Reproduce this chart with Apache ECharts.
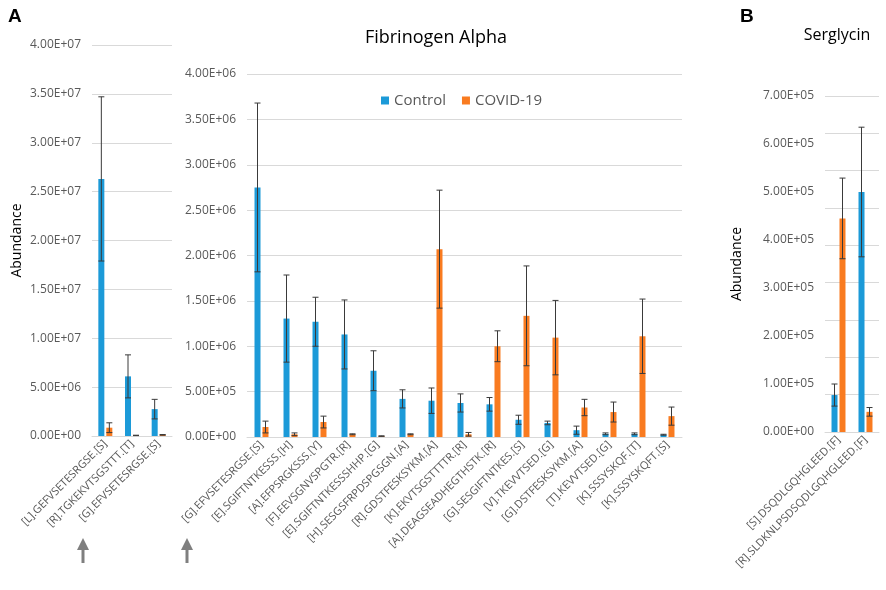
<!DOCTYPE html>
<html>
<head>
<meta charset="utf-8">
<script src="https://cdn.jsdelivr.net/npm/echarts@6/dist/echarts.min.js"></script>
<style>
  html, body { margin: 0; padding: 0; background: #fff; }
  #main { width: 886px; height: 590px; }
</style>
</head>
<body>
<div id="main"></div>
<script>
// panel A, left: high-abundance peptides
var leftCats = ['[L].GEFVSETESRGSE.[S]', '[R].TGKEKVTSGSTTT.[T]', '[G].EFVSETESRGSE.[S]'];
var leftCtrl = [2.63e7, 6.1e6, 2.75e6];
var leftCtrlSd = [8.4e6, 2.2e6, 1.0e6];
var leftCovid = [8.5e5, 6e4, 1.2e5];
var leftCovidSd = [5e5, 2e4, 3e4];

// panel A, Fibrinogen Alpha
var fibCats = ['[G].EFVSETESRGSE.[S]', '[E].SGIFTNTKESSS.[H]', '[A].EFPSRGKSSS.[Y]',
  '[F].EEVSGNVSPGTR.[R]', '[E].SGIFTNTKESSSHHP.[G]', '[H].SESGSFRPDSPGSGN.[A]',
  '[R].GDSTFESKSYKM.[A]', '[K].EKVTSGSTTTTR.[R]', '[A].DEAGSEADHEGTHSTK.[R]',
  '[G].SESGIFTNTKES.[S]', '[V].TKEVVTSED.[G]', '[G].DSTFESKSYKM.[A]',
  '[T].KEVVTSED.[G]', '[K].SSSYSKQF.[T]', '[K].SSSYSKQFT.[S]'];
var fibCtrl = [2.75e6, 1.305e6, 1.27e6, 1.13e6, 7.3e5, 4.2e5, 4.0e5, 3.75e5, 3.6e5, 1.9e5, 1.55e5, 7.5e4, 3.5e4, 3.5e4, 2.5e4];
var fibCtrlSd = [9.3e5, 4.8e5, 2.7e5, 3.8e5, 2.2e5, 1.0e5, 1.4e5, 1.0e5, 7.5e4, 5e4, 2e4, 4.5e4, 1e4, 1e4, 5e3];
var fibCovid = [1.1e5, 3e4, 1.65e5, 3e4, 1e4, 3e4, 2.07e6, 3e4, 1.0e6, 1.335e6, 1.095e6, 3.25e5, 2.75e5, 1.11e6, 2.3e5];
var fibCovidSd = [6.5e4, 1.5e4, 6.5e4, 5e3, 3e3, 5e3, 6.5e5, 2e4, 1.7e5, 5.5e5, 4.1e5, 9e4, 1.1e5, 4.1e5, 1.0e5];

// panel B, Serglycin
var sergCats = ['[S].DSQDLGQHGLEED.[F]', '[R].SLDKNLPSDSQDLGQHGLEED.[F]'];
var sergCtrl = [7.7e4, 5.0e5];
var sergCtrlSd = [2.3e4, 1.35e5];
var sergCovid = [4.45e5, 4.2e4];
var sergCovidSd = [8.4e4, 9e3];

var blue = '#1c9ad8';
var orange = '#f97b20';
var grey = '#595959';
var font = 'Open Sans';

function sci(v) {
  if (v === 0) return '0.00E+00';
  var e = Math.floor(Math.log10(v) + 1e-9);
  var m = v / Math.pow(10, e);
  return m.toFixed(2) + 'E+' + (e < 10 ? '0' + e : e);
}

function errData(vals, sds) {
  return vals.map(function (v, i) { return [i, v, sds[i]]; });
}

function errRender(off) {
  return function (params, api) {
    var x = api.value(0), m = api.value(1), s = api.value(2);
    var hi = api.coord([x, m + s]);
    var lo = api.coord([x, Math.max(m - s, 0)]);
    var cx = hi[0] + off;
    var st = { stroke: '#3a3a3a', lineWidth: 1 };
    return {
      type: 'group',
      children: [
        { type: 'line', shape: { x1: cx, y1: hi[1], x2: cx, y2: lo[1] }, style: st },
        { type: 'line', shape: { x1: cx - 3, y1: hi[1], x2: cx + 3, y2: hi[1] }, style: st },
        { type: 'line', shape: { x1: cx - 3, y1: lo[1], x2: cx + 3, y2: lo[1] }, style: st }
      ]
    };
  };
}

function xAx(gi, cats) {
  return {
    type: 'category', gridIndex: gi, data: cats,
    axisLine: { lineStyle: { color: '#d9d9d9' } },
    axisTick: { show: false },
    axisLabel: { rotate: 45, interval: 0, color: grey, fontSize: 11, fontFamily: font, margin: 6 }
  };
}

function yAx(gi, max, interval, name, gap) {
  return {
    type: 'value', gridIndex: gi, min: 0, max: max, interval: interval,
    name: name, nameLocation: 'middle', nameGap: gap, nameRotate: 90,
    nameTextStyle: { color: '#000', fontSize: 14, fontFamily: font },
    axisLine: { show: false }, axisTick: { show: false },
    axisLabel: { color: grey, fontSize: 12, fontFamily: font, formatter: sci, margin: 11 },
    splitLine: { show: gi !== 2, lineStyle: { color: '#d9d9d9' } }
  };
}

function bars(name, gi, vals, color) {
  return {
    name: name, type: 'bar', xAxisIndex: gi, yAxisIndex: gi, data: vals,
    barWidth: 6, barGap: '33%', itemStyle: { color: color }
  };
}

function errs(gi, vals, sds, off) {
  return {
    type: 'custom', xAxisIndex: gi, yAxisIndex: gi, renderItem: errRender(off),
    data: errData(vals, sds), z: 5, silent: true
  };
}

var myChart = echarts.init(document.getElementById('main'));

var option = {
  backgroundColor: '#fff',
  animation: false,
  title: [
    { text: 'Fibrinogen Alpha', left: 431, top: 24, textAlign: 'center',
      textStyle: { fontSize: 18, fontWeight: 'normal', color: '#000', fontFamily: font } },
    { text: 'Serglycin', left: 832, top: 22, textAlign: 'center',
      textStyle: { fontSize: 16, fontWeight: 'normal', color: '#000', fontFamily: font } },
    { text: 'A', left: 3, top: 2, textStyle: { fontSize: 19, fontWeight: 'bold', color: '#000', fontFamily: 'Liberation Sans' } },
    { text: 'B', left: 735, top: 2, textStyle: { fontSize: 19, fontWeight: 'bold', color: '#000', fontFamily: 'Liberation Sans' } }
  ],
  legend: {
    data: ['Control', 'COVID-19'], left: 376, top: 88,
    icon: 'rect', itemWidth: 8, itemHeight: 8, itemGap: 16,
    textStyle: { color: grey, fontSize: 15, fontFamily: font }
  },
  grid: [
    { left: 92, top: 45, width: 80, height: 391 },
    { left: 247, top: 74, width: 435, height: 363 },
    { left: 825, top: 96, width: 54, height: 336 }
  ],
  xAxis: [xAx(0, leftCats), xAx(1, fibCats), xAx(2, sergCats)],
  yAxis: [
    yAx(0, 4e7, 5e6, 'Abundance', 68),
    yAx(1, 4e6, 5e5, '', 0),
    yAx(2, 7e5, 1e5, 'Abundance', 81),
    { type: 'value', gridIndex: 2, min: 0, max: 9, interval: 1, show: true,
      axisLine: { show: false }, axisTick: { show: false }, axisLabel: { show: false },
      splitLine: { show: true, lineStyle: { color: '#d9d9d9' } } }
  ],
  series: [
    bars('Control', 0, leftCtrl, blue),
    bars('COVID-19', 0, leftCovid, orange),
    errs(0, leftCtrl, leftCtrlSd, -4),
    errs(0, leftCovid, leftCovidSd, 4),
    bars('Control', 1, fibCtrl, blue),
    bars('COVID-19', 1, fibCovid, orange),
    errs(1, fibCtrl, fibCtrlSd, -4),
    errs(1, fibCovid, fibCovidSd, 4),
    bars('Control', 2, sergCtrl, blue),
    bars('COVID-19', 2, sergCovid, orange),
    errs(2, sergCtrl, sergCtrlSd, -4),
    errs(2, sergCovid, sergCovidSd, 4)
  ],
  graphic: [83, 187].map(function (x) {
    return {
      type: 'group', left: x - 6, top: 538,
      children: [
        { type: 'polygon', shape: { points: [[0, 12], [6, 0], [12, 12]] }, style: { fill: '#7f7f7f' } },
        { type: 'rect', shape: { x: 4.5, y: 11, width: 3, height: 14 }, style: { fill: '#7f7f7f' } }
      ]
    };
  })
};

myChart.setOption(option);
</script>
</body>
</html>
